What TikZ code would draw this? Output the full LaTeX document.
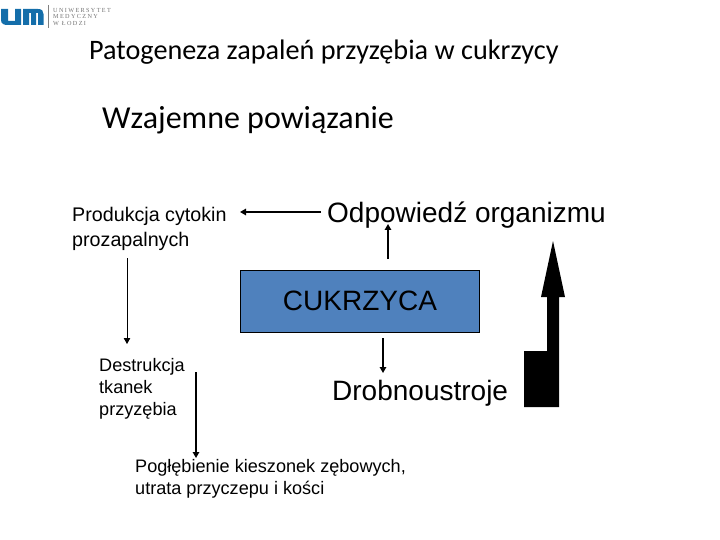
\documentclass[tikz,border=0pt]{standalone}
\usepackage{fontspec}
\setmainfont{Liberation Sans}
\newfontfamily\titlefont{Carlito}
\newfontfamily\logofont[LetterSpace=22]{Liberation Serif}
\usepackage{xcolor}
\usetikzlibrary{arrows.meta}
\definecolor{logoblue}{RGB}{20,110,170}
\definecolor{boxblue}{RGB}{79,129,189}
\tikzset{
	lbl/.style={anchor=west,inner sep=0pt,align=left,font=\fontsize{19.7}{24.5}\selectfont},
	small/.style={anchor=west,inner sep=0pt,align=left,font=\fontsize{18.1}{21.7}\selectfont},
	big/.style={anchor=west,inner sep=0pt,font=\fontsize{28}{30}\selectfont},
	head/.style={anchor=west,inner sep=0pt,font=\titlefont\fontsize{#1}{#1}\selectfont},
	rw/.style={line width=1.3pt,-{Triangle[length=6pt,width=6.5pt]}},
	logotxt/.style={anchor=west,inner sep=0pt,text=black!55,font=\logofont\fontsize{6.2}{6.2}\selectfont},
}
\begin{document}
\begin{tikzpicture}[x=1pt,y=-1pt]
	\useasboundingbox (0,0) rectangle (720,540);
	% logo
	\fill[logoblue] (1,9) -- (1,20) .. controls (1,24) and (4,25) .. (8,25) -- (21,25) -- (21,9) -- (15,9) -- (15,21) -- (8,21) -- (8,9) -- cycle;
	\fill[logoblue] (23,25) -- (23,9) -- (38,9) .. controls (42,9) and (43.5,11) .. (43.5,14) -- (43.5,25) -- (38,25) -- (38,13) -- (36,13) -- (36,25) -- (31,25) -- (31,13) -- (29,13) -- (29,25) -- cycle;
	\draw[black!50,line width=.6pt] (48.5,5) -- (48.5,28);
	\node[logotxt] (uni) at (53,10) {UNIWERSYTET};
	\node[logotxt] (med) at (53,16.5) {MEDYCZNY};
	\node[logotxt] (lodz) at (53,23) {W ŁODZI};
	% titles
	\node[head=28.2] (title) at (89,52) {Patogeneza zapaleń przyzębia w cukrzycy};
	\node[head=32] (sub) at (102,120) {Wzajemne powiązanie};
	% labels
	\node[lbl] (prod) at (72,229) {Produkcja cytokin\\prozapalnych};
	\node[big] (odp) at (327,215) {Odpowiedź organizmu};
	\node[draw=black,fill=boxblue,line width=.8pt,minimum width=239pt,minimum height=62pt,inner sep=0pt,
		font=\fontsize{28}{30}\selectfont] (cuk) at (360,301) {CUKRZYCA};
	\node[small] (destr) at (99,389) {Destrukcja\\tkanek\\przyzębia};
	\node[big] (drob) at (332,393) {Drobnoustroje};
	\node[small] (pogl) at (135,479) {Pogłębienie kieszonek zębowych,\\utrata przyczepu i kości};
	% connectors
	\coordinate (a1) at (321,212);
	\coordinate (a2) at (240,212);
	\coordinate (b1) at (388,259);
	\coordinate (b2) at (388,224);
	\coordinate (c1) at (127,258);
	\coordinate (c2) at (127,344);
	\coordinate (d1) at (383,338);
	\coordinate (d2) at (383,373);
	\coordinate (e1) at (196,372);
	\coordinate (e2) at (196,458);
	\draw[rw] (a1) -- (a2);
	\draw[rw] (b1) -- (b2);
	\draw[rw,line width=.8pt] (c1) -- (c2);
	\draw[rw] (d1) -- (d2);
	\draw[rw] (e1) -- (e2);
	% growth arrow
	\fill[black] (524,407) -- (524,351) -- (547,351) -- (547,297) -- (541,297) -- (553,241) -- (565,297) -- (559,297) -- (559,407) -- cycle;
\end{tikzpicture}
\end{document}
